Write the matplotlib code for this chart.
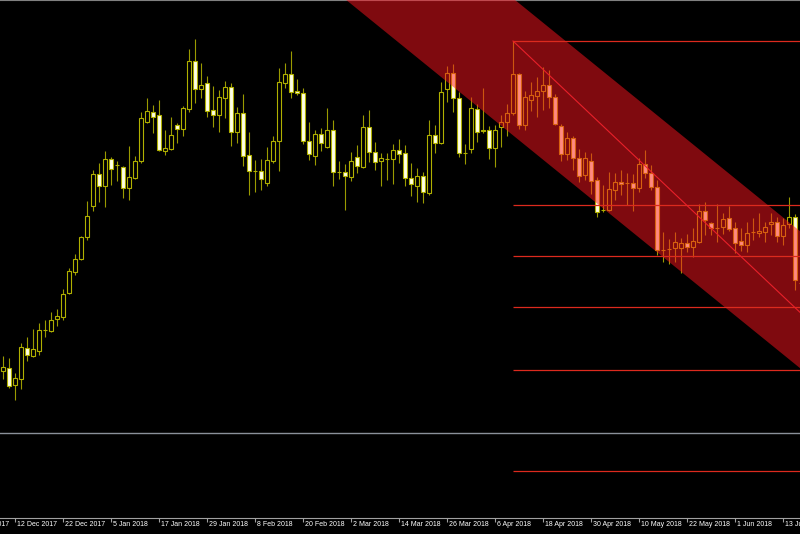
import numpy as np
import pandas as pd
import matplotlib
matplotlib.use('Agg')
import matplotlib.pyplot as plt
from matplotlib.patches import Rectangle, Polygon

# daily candles, bar index 0 = 8 Dec 2017 (price in chart units)
opens = [147, 150, 133, 139, 170, 162, 167, 188, 187, 199,
         201, 225, 246, 259, 281, 312, 344, 332, 359, 353,
         351, 330, 340, 357, 396, 406, 403, 367, 369, 393,
         389, 409, 457, 429, 435, 408, 403, 420, 431, 386,
         405, 363, 347, 347, 335, 357, 377, 435, 444, 427,
         425, 377, 362, 384, 371, 388, 346, 346, 341, 361,
         351, 391, 366, 357, 359, 359, 368, 365, 340, 332,
         342, 325, 383, 375, 429, 445, 420, 365, 369, 409,
         388, 388, 370, 391, 396, 405, 444, 393, 418, 422,
         427, 433, 421, 392, 364, 380, 360, 343, 357, 338,
         308, 308, 328, 336, 335, 335, 330, 354, 345, 331,
         268, 269, 270, 270, 275, 271, 276, 307, 295, 290,
         291, 300, 290, 277, 273, 286, 285, 286, 294, 296,
         282, 294, 301, 235]
highs = [162, 160, 145, 175, 181, 189, 195, 198, 206, 209,
         229, 250, 264, 282, 317, 348, 355, 367, 361, 357,
         352, 372, 362, 406, 420, 413, 418, 388, 401, 395,
         412, 469, 479, 455, 442, 432, 428, 437, 435, 411,
         424, 386, 358, 359, 371, 382, 450, 455, 467, 439,
         430, 396, 388, 390, 410, 398, 357, 354, 366, 373,
         403, 408, 376, 365, 365, 374, 379, 373, 355, 350,
         346, 398, 393, 436, 452, 454, 426, 374, 421, 414,
         430, 392, 393, 403, 414, 477, 445, 427, 436, 441,
         451, 448, 424, 394, 386, 382, 369, 366, 365, 341,
         333, 346, 345, 348, 345, 344, 360, 368, 353, 338,
         286, 279, 286, 280, 284, 290, 314, 316, 296, 314,
         305, 312, 296, 290, 296, 300, 305, 296, 305, 301,
         300, 321, 304, 246]
lows = [139, 130, 118, 129, 157, 161, 163, 181, 186, 192,
        198, 224, 243, 258, 278, 307, 316, 311, 333, 337,
        320, 318, 339, 355, 395, 385, 367, 363, 368, 375,
        382, 406, 415, 420, 401, 391, 386, 400, 372, 375,
        352, 323, 326, 328, 332, 355, 347, 430, 420, 423,
        374, 358, 353, 367, 370, 332, 339, 308, 337, 345,
        350, 356, 348, 332, 338, 334, 355, 332, 322, 316,
        315, 323, 365, 374, 416, 406, 361, 354, 365, 376,
        385, 359, 351, 371, 382, 403, 389, 388, 407, 401,
        408, 410, 393, 357, 358, 348, 336, 338, 324, 301,
        306, 307, 318, 323, 313, 307, 326, 340, 328, 263,
        256, 254, 256, 245, 266, 261, 275, 283, 283, 276,
        284, 287, 265, 267, 266, 278, 281, 276, 283, 276,
        273, 290, 228, 228]
closes = [151, 132, 140, 171, 163, 169, 188, 188, 198, 202,
          224, 247, 259, 281, 302, 344, 332, 359, 349, 353,
          330, 341, 357, 400, 407, 401, 368, 370, 383, 389,
          410, 457, 429, 433, 407, 403, 421, 431, 386, 405,
          362, 347, 347, 339, 358, 377, 436, 444, 426, 425,
          377, 364, 384, 375, 388, 346, 346, 342, 357, 352,
          391, 366, 356, 360, 359, 368, 364, 340, 334, 342,
          326, 383, 375, 426, 445, 420, 365, 365, 410, 386,
          387, 370, 388, 396, 405, 444, 393, 421, 423, 427,
          433, 421, 394, 364, 380, 360, 342, 360, 337, 306,
          308, 329, 336, 334, 335, 330, 354, 345, 331, 268,
          268, 269, 276, 275, 271, 277, 307, 298, 290, 290,
          299, 289, 275, 273, 285, 286, 287, 291, 296, 282,
          293, 301, 238, 235]

# trading days (broker calendar) for the time axis
holidays = ['2017-12-25', '2018-01-01', '2018-03-30']
days = pd.bdate_range('2017-11-30', '2018-06-29')
days = days[~days.isin(pd.to_datetime(holidays))]
first_bar = -6          # 30 Nov 2017 sits 6 bars left of bar 0

# channel anchors (bar, price)
chan_x = [57.2, 132.8]
chan_lower = [518, 150]
chan_upper = [655, 287]

# fibonacci retracement
fib_x = [85, 160.8]
fib_high = 477
fib_low = 47
fib_levels = [0.0, 0.382, 0.5, 0.618, 0.764, 1.0]

hline_level = 85

fig = plt.figure(figsize=(8, 5.34), dpi=100, facecolor='black')
ax = fig.add_axes([0, 16 / 534, 1, 518 / 534])
ax.set_facecolor('black')

xmin, xmax = -0.5, 132.83
ax.set_xlim(xmin, xmax)
ax.set_ylim(0, 518)

wick_col = '#9a9a00'
edge_col = '#b0b000'
w = 0.62
for i in range(len(opens)):
    o, h, l, c = opens[i], highs[i], lows[i], closes[i]
    ax.vlines(i, l, max(o, c), color=wick_col, lw=0.8, zorder=2)
    ax.vlines(i, min(o, c), h, color=wick_col, lw=0.8, zorder=2)
    face = 'black' if c > o else '#ffffe6'
    ax.add_patch(Rectangle((i - w / 2, min(o, c)), w, abs(c - o),
                           facecolor=face, edgecolor=edge_col, lw=0.8, zorder=2.5))

# channel band, laid over the candles
slope = (chan_lower[1] - chan_lower[0]) / (chan_x[1] - chan_x[0])
xs = np.array([30, 150])
lo = chan_lower[0] + slope * (xs - chan_x[0])
up = chan_upper[0] + slope * (xs - chan_x[0])
band = Polygon([(xs[0], lo[0]), (xs[1], lo[1]), (xs[1], up[1]), (xs[0], up[0])],
               closed=True, facecolor=(1.0, 0.08, 0.12), alpha=0.5, lw=0, zorder=3)
ax.add_patch(band)

fib_col = '#dc2a1e'
for f in fib_levels:
    lvl = fib_high - f * (fib_high - fib_low)
    ax.hlines(lvl, fib_x[0], xmax + 1, color=fib_col, lw=0.9, zorder=4)
ax.plot(fib_x, [fib_high, fib_low], color='#e8202a', lw=0.8, zorder=4)

ax.axhline(hline_level, color='#8a9099', lw=1, zorder=4)

for s in ['left', 'right']:
    ax.spines[s].set_visible(False)
ax.spines['top'].set_color('#808080')
ax.spines['bottom'].set_color('#a0a0a0')
ax.set_yticks([])

tick_pos = list(range(first_bar, 134, 8))
ax.set_xticks([p for p in tick_pos if xmin <= p <= xmax])
ax.set_xticklabels([])
ax.tick_params(axis='x', colors='#a0a0a0', length=3, width=0.8, direction='out')

for p in tick_pos:
    d = days[p - first_bar]
    lbl = f"{d.day} {d.strftime('%b %Y')}"
    ax.annotate(lbl, xy=(p, 0), xycoords=('data', 'axes fraction'),
                xytext=(1.5, -2.2), textcoords='offset points', ha='left', va='top',
                color='white', fontsize=5, family='Liberation Sans',
                annotation_clip=False)

fig.savefig('out.png', dpi=100, facecolor='black')
